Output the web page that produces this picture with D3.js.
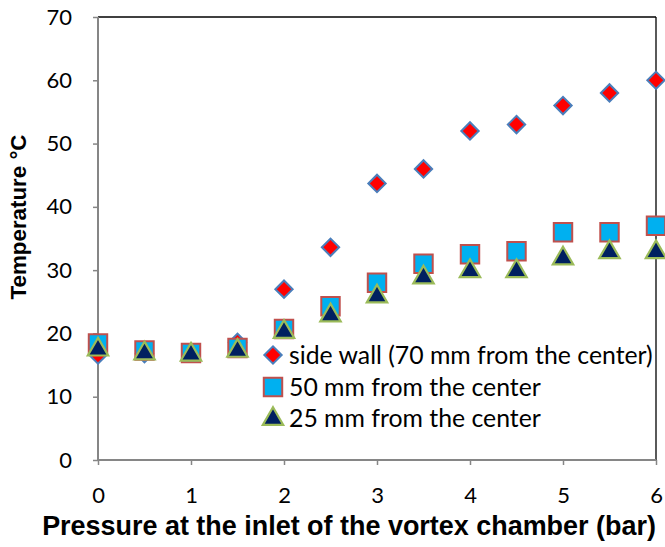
<!DOCTYPE html>
<html><head><meta charset="utf-8">
<script src="https://cdn.jsdelivr.net/npm/d3@7"></script>
<style>body{margin:0;background:#fff}</style>
</head><body>
<script>
const pressure = [0,0.5,1,1.5,2,2.5,3,3.5,4,4.5,5,5.5,6];
const sideWall = [16.6,16.8,17,18.6,27,33.6,43.7,46,52,53,56,58,60];
const mm50 = [18.4,17.3,16.9,17.7,20.7,24.3,28,31,32.5,33,36,36,37];
const mm25 = [17.6,17,16.8,17.4,20.4,23,26,29,30,30,32,33,33];
const seriesNames = ["side wall (70 mm from the center)","50 mm from the center","25 mm from the center"];
const xTicks = [0,1,2,3,4,5,6];
const yTicks = [0,10,20,30,40,50,60,70];

const W=665,H=547;
const svg=d3.select("body").append("svg").attr("width",W).attr("height",H);
const x=d3.scaleLinear().domain([0,6]).range([98,656]);
const y=d3.scaleLinear().domain([0,70]).range([460,17]);
const font="Liberation Sans, Arial, sans-serif";
const lfont="Lato, Calibri, sans-serif";

function fit(sel,w){
  const fs=+sel.attr("font-size");
  const len=sel.node().getComputedTextLength();
  sel.attr("font-size",fs*w/len);
}

// frame top/right
svg.append("line").attr("x1",98).attr("x2",656).attr("y1",17).attr("y2",17).attr("stroke","#000").attr("stroke-width",1.3);
svg.append("line").attr("x1",656).attr("x2",656).attr("y1",17).attr("y2",460).attr("stroke","#000").attr("stroke-width",1.3);

const gy=svg.append("g").attr("transform","translate(98,0)")
  .call(d3.axisLeft(y).tickValues(yTicks).tickSize(5).tickPadding(21).tickFormat(d3.format("d")));
const gx=svg.append("g").attr("transform","translate(0,460)")
  .call(d3.axisBottom(x).tickValues(xTicks).tickSize(5).tickPadding(22).tickFormat(d3.format("d")));
[gx,gy].forEach(g=>{
  g.select(".domain").attr("stroke","#868686").attr("stroke-width",2);
  g.selectAll(".tick line").attr("stroke","#868686").attr("stroke-width",1.5);
  g.selectAll(".tick text").attr("font-family",lfont).attr("font-size",22).attr("fill","#000");
});
gx.select(".domain").attr("d","M98,0H656");
gy.select(".domain").attr("d","M0,17V460");

const xt=svg.append("text").attr("x",349).attr("y",535).attr("text-anchor","middle")
  .attr("font-family",font).attr("font-weight","bold").attr("font-size",24)
  .text("Pressure at the inlet of the vortex chamber (bar)");
fit(xt,614);
const yt=svg.append("text").attr("transform","translate(26,217) rotate(-90)").attr("text-anchor","middle")
  .attr("font-family",font).attr("font-weight","bold").attr("font-size",22)
  .text("Temperature °C");
fit(yt,165);

const diamond=d3.symbol().type(d3.symbolSquare).size(150);
const square=d3.symbol().type(d3.symbolSquare).size(340);
const triangle=d3.symbol().type(d3.symbolTriangle).size(180);

function drawDiamond(g,cx,cy){
  g.append("path").attr("d",diamond()).attr("transform",`translate(${cx},${cy}) rotate(45)`)
   .attr("fill","#ff0000").attr("stroke","#4a7ebb").attr("stroke-width",2);
}
function drawSquare(g,cx,cy){
  g.append("path").attr("d",square()).attr("transform",`translate(${cx},${cy})`)
   .attr("fill","#00b0f0").attr("stroke","#c0504d").attr("stroke-width",2);
}
function drawTri(g,cx,cy){
  g.append("path").attr("d",triangle()).attr("transform",`translate(${cx},${cy+1})`)
   .attr("fill","#002060").attr("stroke","#9bbb59").attr("stroke-width",2.2);
}
const pts=svg.append("g");
pressure.forEach((p,i)=>drawDiamond(pts,x(p),y(sideWall[i])));
pressure.forEach((p,i)=>drawSquare(pts,x(p),y(mm50[i])));
pressure.forEach((p,i)=>drawTri(pts,x(p),y(mm25[i])));

// legend
const lg=svg.append("g");
const ly=[355,387,418];
const drawers=[drawDiamond,drawSquare,drawTri];
let lfs=22;
seriesNames.forEach((n,i)=>{
  drawers[i](lg,273,ly[i]);
  const t=lg.append("text").attr("x",289).attr("y",ly[i]).attr("dy","0.35em")
    .attr("font-family",lfont).attr("font-size",lfs).attr("fill","#000").text(n);
  if(i===0){fit(t,364);lfs=+t.attr("font-size");}
});
</script>
</body></html>
